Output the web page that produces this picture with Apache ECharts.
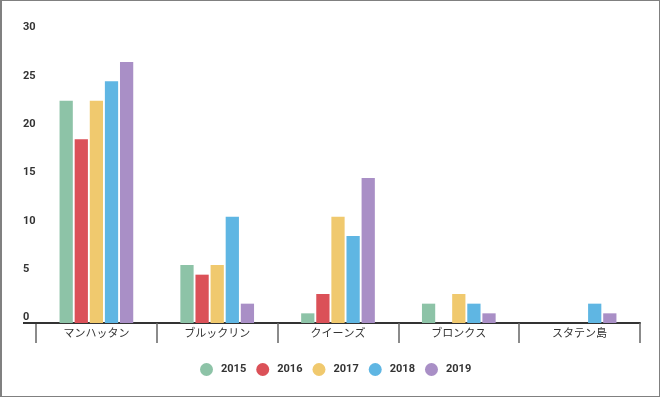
<!DOCTYPE html>
<html>
<head>
<meta charset="utf-8">
<script src="https://cdn.jsdelivr.net/npm/echarts@6/dist/echarts.min.js"></script>
<style>
html,body{margin:0;padding:0;background:#fff;}
#wrap{position:relative;width:660px;height:397px;}
#chart{position:absolute;left:0;top:0;width:660px;height:397px;}
#frame{position:absolute;left:0;top:0;width:660px;height:397px;box-sizing:border-box;border:1px solid #808080;border-left-width:2px;pointer-events:none;}
</style>
</head>
<body>
<div id="wrap"><div id="chart"></div><div id="frame"></div></div>
<script>
const categories = ['マンハッタン', 'ブルックリン', 'クイーンズ', 'ブロンクス', 'スタテン島'];
const seriesNames = ['2015', '2016', '2017', '2018', '2019'];
const v2015 = [23, 6, 1, 2, 0];
const v2016 = [19, 5, 3, 0, 0];
const v2017 = [23, 6, 11, 3, 0];
const v2018 = [25, 11, 9, 2, 2];
const v2019 = [27, 2, 15, 1, 1];
const yTicks = [0, 5, 10, 15, 20, 25, 30];

const values = [v2015, v2016, v2017, v2018, v2019];
const colors = ['#8DC3A7', '#DB5158', '#F0C96E', '#5FB6E3', '#A98FC6'];

const chart = echarts.init(document.getElementById('chart'), null, {renderer: 'canvas'});
const font = "Roboto, 'Noto Sans CJK JP', sans-serif";
chart.setOption({
  animation: false,
  color: colors,
  grid: {left: 36, right: 20, top: 33, bottom: 74, containLabel: false},
  legend: {
    left: 200, top: 363, padding: 0,
    icon: 'circle', itemWidth: 13, itemHeight: 13, itemGap: 10,
    textStyle: {fontFamily: font, fontSize: 11, fontWeight: 'bold', color: '#333', padding: [0, 0, 0, 3]},
    data: seriesNames
  },
  xAxis: {
    type: 'category',
    data: categories,
    axisLine: {show: true, lineStyle: {color: '#333', width: 2}},
    axisTick: {show: true, inside: false, alignWithLabel: false, interval: 0, length: 20, lineStyle: {color: '#666', width: 1.5}},
    axisLabel: {fontFamily: font, fontSize: 11, color: '#333', margin: 6}
  },
  yAxis: {
    type: 'value',
    min: yTicks[0], max: yTicks[yTicks.length - 1], interval: 5,
    axisLine: {show: false},
    axisTick: {show: false},
    splitLine: {show: false},
    axisLabel: {fontFamily: font, fontSize: 11, fontWeight: 'bold', color: '#333', align: 'left', margin: 13, verticalAlign: 'bottom'}
  },
  graphic: [{
    type: 'line', shape: {x1: 23, y1: 323, x2: 37, y2: 323},
    style: {stroke: '#333', lineWidth: 2}, z: 10
  }],
  series: seriesNames.map((name, i) => ({
    name: name,
    type: 'bar',
    data: values[i],
    barCategoryGap: '39%',
    barGap: '14%'
  }))
});
</script>
</body>
</html>
